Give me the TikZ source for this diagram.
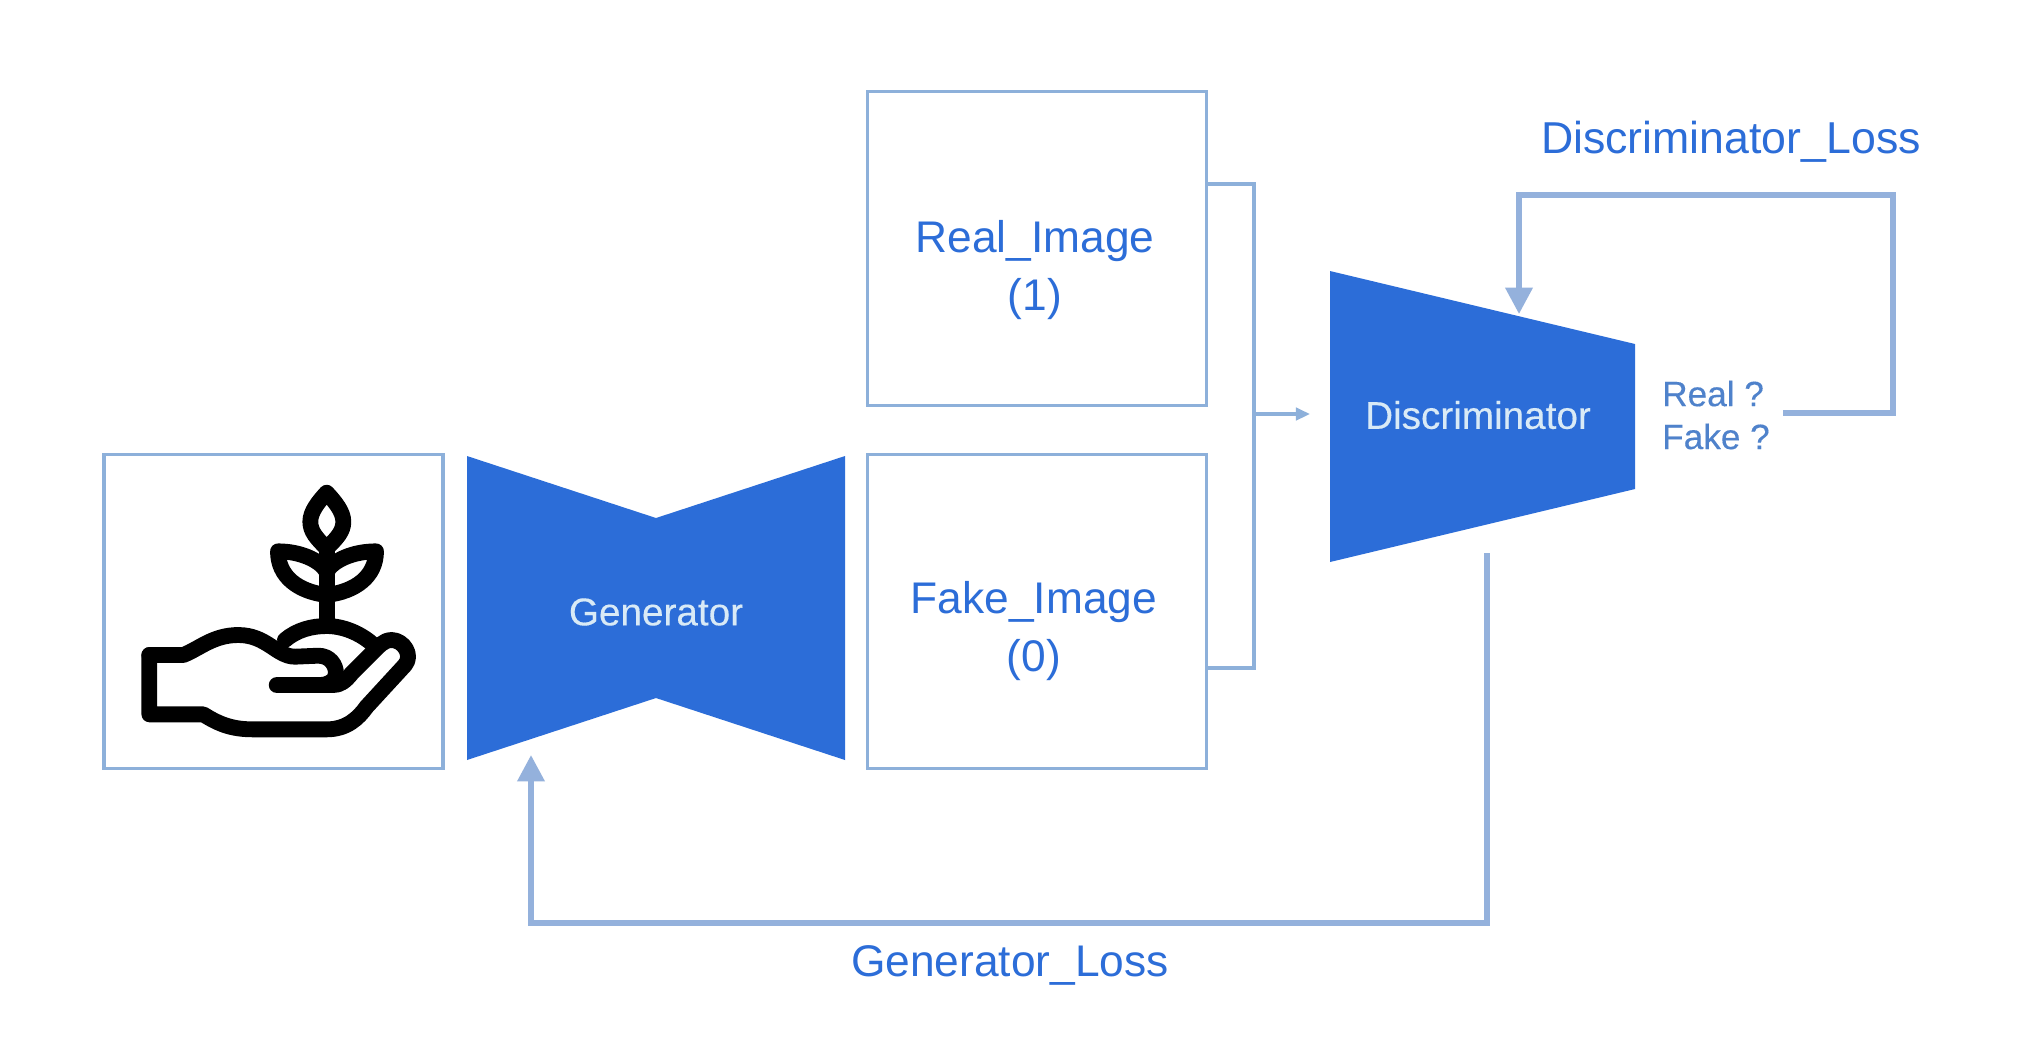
\documentclass[tikz,border=0pt]{standalone}
\usepackage{fontspec}
\setmainfont{Liberation Sans}
\newfontfamily\medfont[FakeBold=0.25]{Liberation Sans}
\usetikzlibrary{arrows.meta}
\definecolor{netblue}{HTML}{2C6DD8}
\definecolor{linkblue}{HTML}{94B1DC}
\definecolor{boxblue}{HTML}{8DB0DA}
\definecolor{softwhite}{HTML}{D9EAF6}
\definecolor{askblue}{HTML}{4F82CB}
\tikzset{
  imgbox/.style={draw=boxblue,line width=.95pt,fill=white,minimum width=3.39cm,minimum height=3.14cm},
  bluetext/.style={text=netblue,font=\fontsize{12.6}{16.5}\selectfont,align=center},
  nettext/.style={text=softwhite,font=\medfont\fontsize{11}{13}\selectfont},
  asktext/.style={text=askblue,font=\medfont\fontsize{10}{12.2}\selectfont,align=left},
  netshape/.style={fill=netblue},
  thinlink/.style={draw=boxblue,line width=.95pt},
  losslink/.style={draw=linkblue,line width=1.6pt},
  plantline/.style={draw=black,line width=4.5pt,line join=round,line cap=round},
}
\begin{document}
\begin{tikzpicture}
  [x=.01cm,y=-.01cm]
  \path[fill=white] (0,0) rectangle (2030,1038);

  % boxes
  \node[imgbox] (seedbox) at (273.5,611.5) {};
  \node[imgbox] (realbox) at (1037,248.5) {};
  \node[imgbox] (fakebox) at (1037,611.5) {};
  \node[bluetext] (realtext) at (1035,270) {Real\_Image\\(1)};
  \node[bluetext] (faketext) at (1034,631) {Fake\_Image\\(0)};

  % networks
  \fill[netshape] (467,456) -- (656,518) -- (845,456) -- (845,760) -- (656,698) -- (467,760) -- cycle;
  \fill[netshape] (1330,271) -- (1635,344) -- (1635,489) -- (1330,562) -- cycle;
  \node[nettext] (gen) at (656,612) {Generator};
  \node[nettext] (disc) at (1478,415) {Discriminator};
  \node[asktext] (ask) at (1716,415) {Real ?\\Fake ?};
  \node[bluetext,font=\fontsize{12.7}{15}\selectfont] (discloss) at (1731,142) {Discriminator\_Loss};
  \node[bluetext] (genloss) at (1010,965) {Generator\_Loss};

  % connector ends
  \coordinate (realout) at (1207,184);
  \coordinate (fakeout) at (1207,668);
  \coordinate (join) at (1254,414);
  \coordinate (discin) at (1310,414);
  \coordinate (askout) at (1783,413);
  \coordinate (disctop) at (1519,314);
  \coordinate (discbot) at (1487,553);
  \coordinate (genbot) at (531,755);

  \draw[thinlink] (realout) -| (join);
  \draw[thinlink] (fakeout) -| (join);
  \draw[thinlink,-{Triangle[length=4pt,width=3.5pt]}] (join) -- (discin);
  \draw[losslink,-{Triangle[length=7.5pt,width=7.5pt]}] (askout) -- (1893,413) -- (1893,195) -- (1519,195) -- (disctop);
  \draw[losslink,-{Triangle[length=7.5pt,width=7.5pt]}] (discbot) -- (1487,923) -- (531,923) -- (genbot);

  % hand and plant
  \begin{scope}[shift={(120,470)},x=.01cm/3,y=-.01cm/3]
    \draw[plantline] (88,555) -- (190,555) .. controls (240,535) and (280,495) .. (355,495)
      .. controls (440,495) and (470,560) .. (525,560) -- (595,557)
      .. controls (630,557) and (648,585) .. (648,610) .. controls (648,630) and (625,645) .. (600,645) -- (470,645);
    \draw[plantline] (88,555) -- (88,733) -- (250,733) .. controls (300,765) and (340,778) .. (400,778)
      -- (620,778) .. controls (680,778) and (715,745) .. (740,710) -- (855,585)
      .. controls (880,555) and (850,510) .. (815,510) .. controls (790,510) and (775,530) .. (760,545)
      -- (695,610) .. controls (675,635) and (660,645) .. (640,645) -- (600,645);
    \draw[plantline] (495,510) .. controls (530,480) and (575,468) .. (620,468) .. controls (670,468) and (720,490) .. (755,520);
    \draw[plantline] (620,468) -- (620,235);
    \draw[plantline] (620,235) .. controls (590,205) and (571,185) .. (571,155) .. controls (571,125) and (595,95) .. (620,68)
      .. controls (645,95) and (670,125) .. (670,155) .. controls (670,185) and (650,205) .. (620,235);
    \draw[plantline] (620,375) .. controls (535,365) and (474,320) .. (474,244) .. controls (540,244) and (600,270) .. (620,305);
    \draw[plantline] (620,375) .. controls (705,365) and (768,320) .. (768,244) .. controls (700,244) and (640,270) .. (620,305);
  \end{scope}
\end{tikzpicture}
\end{document}
